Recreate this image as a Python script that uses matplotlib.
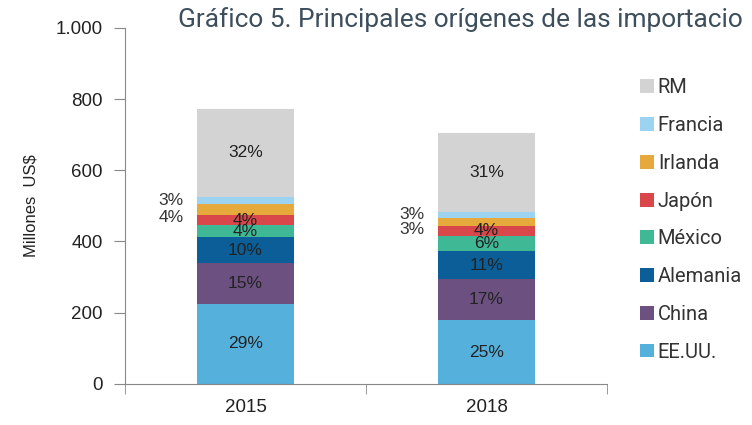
import matplotlib.pyplot as plt
import numpy as np
from matplotlib.ticker import FuncFormatter

# datos (millones US$)
years = ["2015", "2018"]
eeuu = [225, 178]
china = [114, 117]
alemania = [72, 77]
mexico = [34, 44]
japon = [28, 28]
irlanda = [33, 23]
francia = [20, 17]
rm = [246, 222]

# etiquetas de participacion
pct_eeuu = ["29%", "25%"]
pct_china = ["15%", "17%"]
pct_alemania = ["10%", "11%"]
pct_mexico = ["4%", "6%"]
pct_japon = ["4%", "4%"]
pct_irlanda = ["4%", "3%"]
pct_francia = ["3%", "3%"]
pct_rm = ["32%", "31%"]

names = ["EE.UU.", "China", "Alemania", "México", "Japón", "Irlanda", "Francia", "RM"]
series = [eeuu, china, alemania, mexico, japon, irlanda, francia, rm]
pcts = [pct_eeuu, pct_china, pct_alemania, pct_mexico, pct_japon, pct_irlanda, pct_francia, pct_rm]
colors = ["#56b0dc", "#6b5080", "#0b5e97", "#3fb896", "#d9474a", "#e5a93c", "#9cd3f0", "#d3d3d3"]

fig = plt.figure(figsize=(7.52, 4.25), dpi=100)
ax = fig.add_axes([0.1662, 0.0972, 0.641, 0.837])

x = np.arange(len(years))
width = 0.40
bottom = np.zeros(len(years))
handles = []
for name, vals, labs, col in zip(names, series, pcts, colors):
    vals = np.array(vals, dtype=float)
    b = ax.bar(x, vals, width, bottom=bottom, color=col, label=name)
    handles.append(b)
    mid = bottom + vals / 2
    for i in range(len(x)):
        if name == "Francia":
            ax.text(x[i] - width / 2 - 0.058, mid[i], labs[i], ha="right", va="center",
                    fontsize=12.5, color="#333333", family="Liberation Sans")
        elif name == "Irlanda":
            ax.text(x[i] - width / 2 - 0.058, mid[i] - 22, labs[i], ha="right", va="center",
                    fontsize=12.5, color="#333333", family="Liberation Sans")
        else:
            ax.text(x[i], mid[i], labs[i], ha="center", va="center",
                    fontsize=12.5, color="#222222", family="Liberation Sans")
    bottom = bottom + vals

ax.set_xlim(-0.5, 1.5)
ax.set_ylim(0, 1000)
ax.set_yticks(range(0, 1001, 200))
ax.yaxis.set_major_formatter(FuncFormatter(lambda v, p: f"{int(v):,}".replace(",", ".")))
ax.set_xticks(x)
ax.set_xticklabels(years)
ax.set_xticks([-0.5, 0.5, 1.5], minor=True)
ax.tick_params(axis="x", which="major", length=0, pad=11, labelsize=13.5, labelcolor="#222222")
ax.tick_params(axis="x", which="minor", length=7, color="#888888")
ax.tick_params(axis="y", length=8, color="#888888", pad=8, labelsize=13.5, labelcolor="#222222")
for lab in ax.get_xticklabels() + ax.get_yticklabels():
    lab.set_family("Liberation Sans")
for s in ["top", "right"]:
    ax.spines[s].set_visible(False)
for s in ["left", "bottom"]:
    ax.spines[s].set_color("#888888")

ax.set_ylabel("Millones  US$", fontsize=12, family="Liberation Sans", color="#222222", labelpad=12)

leg = fig.legend(handles[::-1], names[::-1], loc="upper left", bbox_to_anchor=(0.827, 0.858),
                 frameon=False, prop={"family": "Roboto", "size": 14.5},
                 handlelength=0.68, handleheight=0.68, handletextpad=0.2, labelspacing=0.93)
for t in leg.get_texts():
    t.set_color("#333333")

fig.text(0.237, 0.984, "Gráfico 5. Principales orígenes de las importacio", ha="left", va="top",
         fontsize=18.9, family="Roboto", color="#3d4f5c")

fig.savefig("out.png", dpi=100)
